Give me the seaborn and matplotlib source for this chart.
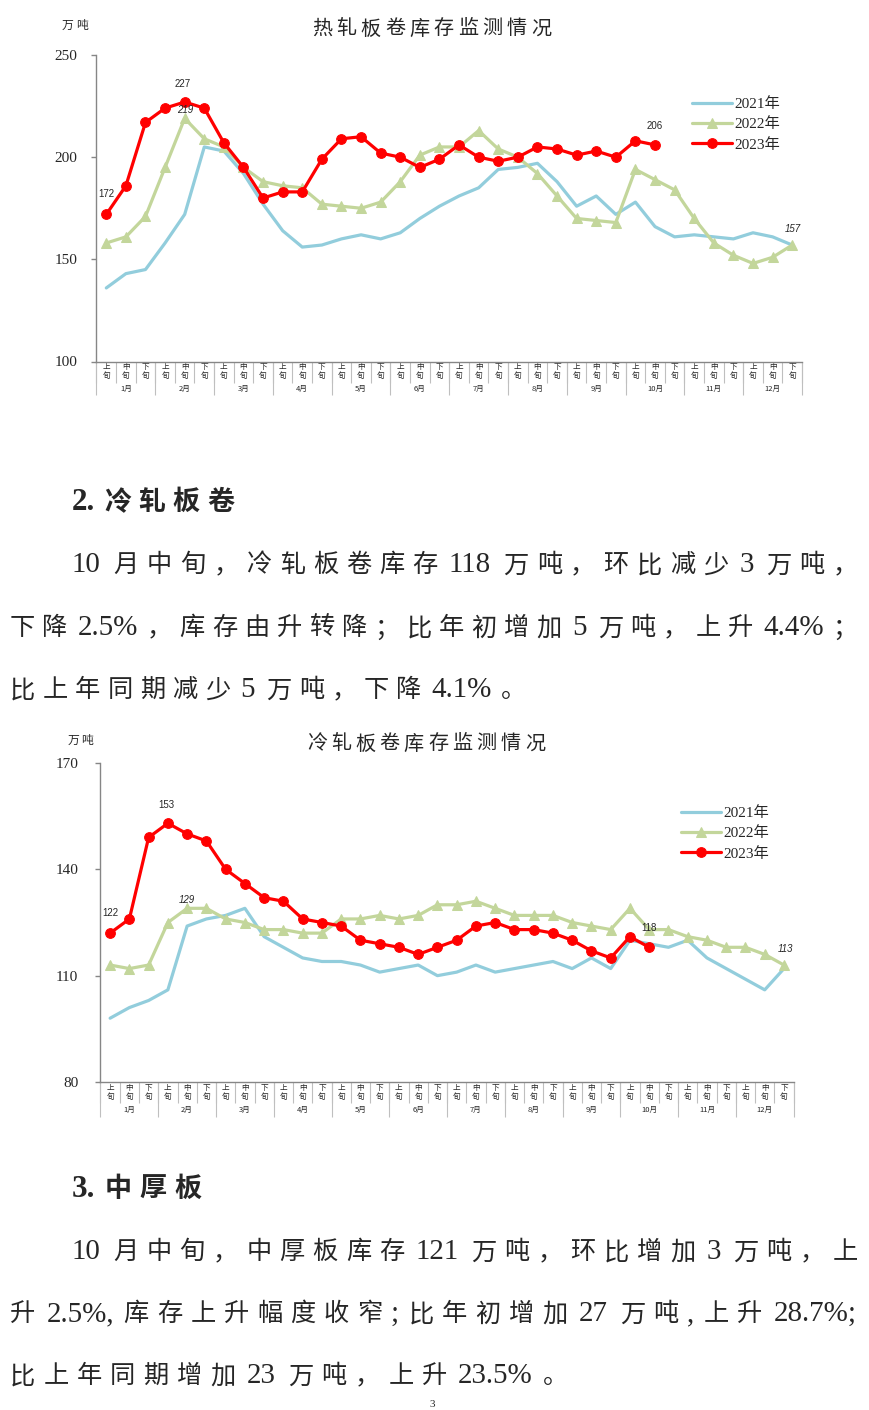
import numpy as np
import matplotlib
matplotlib.use("Agg")
import matplotlib.pyplot as plt
import seaborn as sns
from matplotlib.font_manager import FontProperties

# ---------------- data ----------------
periods = ["上旬", "中旬", "下旬"]
months = [f"{m}月" for m in range(1, 13)]
series_names = ["2021年", "2022年", "2023年"]

hot_2021 = [136, 143, 145, 158, 172, 205, 203, 192, 177, 164, 156, 157,
            160, 162, 160, 163, 170, 176, 181, 185, 194, 195, 197, 188,
            176, 181, 172, 178, 166, 161, 162, 161, 160, 163, 161, 157]
hot_2022 = [158, 161, 171, 195, 219, 209, 205, 195, 188, 186, 185, 177,
            176, 175, 178, 188, 201, 205, 205, 213, 204, 200, 192, 181,
            170, 169, 168, 194, 189, 184, 170, 158, 152, 148, 151, 157]
hot_2023 = [172, 186, 217, 224, 227, 224, 207, 195, 180, 183, 183, 199,
            209, 210, 202, 200, 195, 199, 206, 200, 198, 200, 205, 204,
            201, 203, 200, 208, 206]

cold_2021 = [98, 101, 103, 106, 124, 126, 127, 129, 121, 118, 115, 114,
             114, 113, 111, 112, 113, 110, 111, 113, 111, 112, 113, 114,
             112, 115, 112, 120, 119, 118, 120, 115, 112, 109, 106, 112]
cold_2022 = [113, 112, 113, 125, 129, 129, 126, 125, 123, 123, 122, 122,
             126, 126, 127, 126, 127, 130, 130, 131, 129, 127, 127, 127,
             125, 124, 123, 129, 123, 123, 121, 120, 118, 118, 116, 113]
cold_2023 = [122, 126, 149, 153, 150, 148, 140, 136, 132, 131, 126, 125,
             124, 120, 119, 118, 116, 118, 120, 124, 125, 123, 123, 122,
             120, 117, 115, 121, 118]

hot_title = "热轧板卷库存监测情况"
cold_title = "冷轧板卷库存监测情况"
unit = "万吨"
hot_yticks = [100, 150, 200, 250]
cold_yticks = [80, 110, 140, 170]

# (series index, point index) of labelled points
hot_labels = [(2, 0), (2, 4), (1, 4), (2, 28), (1, 35)]
cold_labels = [(2, 0), (2, 3), (1, 4), (2, 28), (1, 35)]

para1_head = "2.冷轧板卷"
para1 = ["10 月中旬，冷轧板卷库存 118 万吨，环比减少 3 万吨，",
         "下降 2.5%，库存由升转降；比年初增加 5 万吨，上升 4.4%；",
         "比上年同期减少 5 万吨，下降 4.1%。"]
para2_head = "3.中厚板"
para2 = ["10 月中旬，中厚板库存 121 万吨，环比增加 3 万吨，上",
         "升 2.5%,库存上升幅度收窄;比年初增加 27 万吨,上升 28.7%;",
         "比上年同期增加 23 万吨，上升 23.5%。"]
page_no = "3"

# ---------------- style ----------------
W, H = 870, 1410
sns.set_style("white")
plt.rcParams["font.family"] = ["Noto Sans CJK SC", "DejaVu Sans"]

BLUE = "#92CDDC"
GREEN = "#C3D69B"
RED = "#FF0000"
AXC = "#868686"
SEPC = "#BFBFBF"
CJK = ["Noto Sans CJK SC", "DejaVu Sans"]
SERIF = ["Liberation Serif", "Noto Sans CJK SC", "DejaVu Sans"]

fig = plt.figure(figsize=(W / 100, H / 100), dpi=100)
renderer = fig.canvas.get_renderer()


def fx(px):
    return px / W


def fy(py):
    return 1 - py / H


def tokens_of(s):
    toks, run = [], ""
    for ch in s:
        if ch == " ":
            if run:
                toks.append(run)
                run = ""
            toks.append(" ")
        elif ord(ch) < 128:
            run += ch
        else:
            if run:
                toks.append(run)
                run = ""
            toks.append(ch)
    if run:
        toks.append(run)
    return toks


def text_line(s, x0, yc, size, x1=None, gap=None, weight="normal"):
    spx = size * 100 / 72
    toks = tokens_of(s)
    items = []
    for t in toks:
        if t == " ":
            items.append((None, 0.12 * spx, True))
            continue
        if ord(t[0]) >= 128:
            o = fig.text(0, 0, t, fontsize=size, fontweight=weight, ha="left",
                         va="baseline", fontfamily=CJK)
            w = spx
        else:
            o = fig.text(0, 0, t, fontsize=size * 1.15, fontweight=weight,
                         ha="left", va="baseline", fontfamily=SERIF)
            w = o.get_window_extent(renderer).width + 0.06 * spx
        items.append((o, w, False))
    real = [it for it in items if not it[2]]
    total = sum(it[1] for it in items)
    if gap is None:
        gap = (x1 - x0 - total) / (len(real) - 1)
    x = x0
    base = yc + 0.37 * spx
    for o, w, is_space in items:
        if is_space:
            x += w
            continue
        o.set_position((fx(x), fy(base)))
        x += w + gap
    return gap


def draw_chart(ax, s21, s22, s23, yticks, label_pts, ypad, sep_px, month_px,
               month_y_px, height_px, leg_anchor):
    data = [s21, s22, s23]
    sns.lineplot(x=np.arange(len(s21)), y=s21, ax=ax, color=BLUE, linewidth=2.3,
                 zorder=2)
    sns.lineplot(x=np.arange(len(s22)), y=s22, ax=ax, color=GREEN, linewidth=2.3,
                 marker="^", markersize=7, markeredgecolor=GREEN, zorder=3)
    sns.lineplot(x=np.arange(len(s23)), y=s23, ax=ax, color=RED, linewidth=2.3,
                 marker="o", markersize=7, markeredgecolor=RED, zorder=4)
    ax.set_xlabel("")
    ax.set_ylabel("")
    n = len(months) * len(periods)
    ax.set_xlim(-0.5, n - 0.5)
    ax.set_ylim(yticks[0], yticks[-1])
    sns.despine(ax=ax)
    for sp in ("left", "bottom"):
        ax.spines[sp].set_color(AXC)
        ax.spines[sp].set_linewidth(1.0)
    ax.set_yticks(yticks)
    ax.tick_params(axis="y", direction="out", length=3.5, width=1, color=AXC,
                   pad=ypad, labelsize=11, left=True)
    for lb in ax.get_yticklabels():
        lb.set_fontfamily(SERIF)
    ax.set_xticks(np.arange(n))
    ax.set_xticklabels([p[0] + "\n" + p[1] for _ in months for p in periods])
    ax.tick_params(axis="x", which="major", length=0, pad=1.2, labelsize=5.5,
                   bottom=True)
    for lb in ax.get_xticklabels():
        lb.set_linespacing(1.15)
    ax.set_xticks(np.arange(-0.5, n, 1), minor=True)
    ax.tick_params(axis="x", which="minor", length=sep_px * 0.72, width=0.8,
                   color=SEPC, direction="out", bottom=True)
    tr = ax.get_xaxis_transform()
    ax.vlines(np.arange(-0.5, n, len(periods)), 0, -month_px / height_px,
              transform=tr, colors=SEPC, linewidth=0.8, clip_on=False)
    for m, name in enumerate(months):
        ax.text(m * len(periods) + 1, -month_y_px / height_px, name, transform=tr,
                ha="center", va="center", fontsize=5.5)
    ax.set_xlim(-0.5, n - 0.5)
    ax.set_ylim(yticks[0], yticks[-1])
    # data labels
    offs = {0: (0, 20), 1: (-2, 18), 2: (0, 8), 3: (0, 19), 4: (1, 16)}
    for k, (si, pi) in enumerate(label_pts):
        v = data[si][pi]
        ax.annotate(str(v), xy=(pi, v), xytext=offs[k], textcoords="offset pixels",
                    ha="center", va="center", fontsize=7,
                    fontfamily=["Liberation Sans", "DejaVu Sans"],
                    fontstyle="italic" if si == 1 else "normal", zorder=6)
    handles = ax.get_lines()[:3]
    leg = ax.legend(handles, series_names, loc="upper left",
                    bbox_to_anchor=(fx(leg_anchor[0]), fy(leg_anchor[1])),
                    bbox_transform=fig.transFigure, frameon=False, borderpad=0,
                    borderaxespad=0, handlelength=2.6, handletextpad=0.2,
                    labelspacing=0.42, prop=FontProperties(family=SERIF, size=11))
    return leg


# ---------------- chart 1 ----------------
ax1 = fig.add_axes([fx(96.5), fy(361.5), (802 - 96.5) / W, (361.5 - 55) / H])
draw_chart(ax1, hot_2021, hot_2022, hot_2023, hot_yticks, hot_labels, 10.5,
           21, 33.5, 27.5, 306.5, (692, 97))
text_line(hot_title, 312, 27, 14.5, x1=551)
text_line(unit, 62, 25, 8.5, x1=88)

# ---------------- chart 2 ----------------
ax2 = fig.add_axes([fx(100.5), fy(1082), (793.6 - 100.5) / W, (1082 - 763) / H])
draw_chart(ax2, cold_2021, cold_2022, cold_2023, cold_yticks, cold_labels, 12.5,
           21.5, 35, 28, 319, (681, 806))
text_line(cold_title, 307, 742, 14.5, x1=545)
text_line(unit, 68, 740, 8.5, x1=93)

# ---------------- text ----------------
BODY = 18.2
text_line(para1_head, 72, 500, 19.5, x1=234, weight="bold")
g = text_line(para1[0], 72, 563, BODY, x1=858)
g = text_line(para1[1], 10, 626, BODY, x1=858)
text_line(para1[2], 10, 688, BODY, gap=g)

text_line(para2_head, 72, 1187, 19.5, x1=202, weight="bold")
g = text_line(para2[0], 72, 1250, BODY, x1=858)
g = text_line(para2[1], 10, 1312, BODY, x1=858)
text_line(para2[2], 10, 1374, BODY, gap=g)

fig.text(fx(432), fy(1409), page_no, fontsize=8, ha="center", va="bottom",
         fontfamily=SERIF)

fig.savefig("out.png", dpi=100)
